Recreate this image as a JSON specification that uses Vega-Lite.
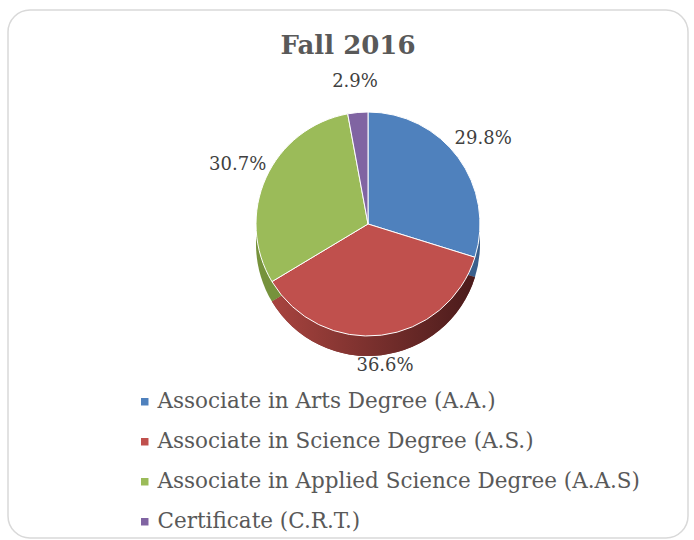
{
  "$schema": "https://vega.github.io/schema/vega-lite/v6.json",
  "width": 680,
  "height": 528,
  "autosize": {"type": "none"},
  "padding": {"left": 8, "top": 10, "right": 6, "bottom": 2},
  "background": "white",
  "config": {"view": {"stroke": null}},
  "title": {
    "text": "Fall 2016",
    "font": "DejaVu Serif",
    "fontSize": 26,
    "fontWeight": "bold",
    "color": "#595959",
    "offset": -50,
    "anchor": "middle"
  },
  "datasets": {
    "shares": [
      {"category": "Associate in Arts Degree (A.A.)", "pct": 0.298, "idx": 1},
      {"category": "Associate in Science Degree (A.S.)", "pct": 0.366, "idx": 2},
      {"category": "Associate in Applied Science Degree (A.A.S)", "pct": 0.307, "idx": 3},
      {"category": "Certificate (C.R.T.)", "pct": 0.029, "idx": 4}
    ],
    "frame": [{"name": "frame"}]
  },
  "layer": [
    {
      "data": {"name": "frame"},
      "mark": {"type": "rect", "fill": null, "stroke": "#d9d9d9", "strokeWidth": 1.5, "cornerRadius": 22},
      "encoding": {}
    },
    {
      "data": {"name": "shares"},
      "mark": {"type": "arc", "outerRadius": 112, "xOffset": 20, "yOffset": -30},
      "encoding": {
        "theta": {"field": "pct", "type": "quantitative", "stack": true},
        "order": {"field": "idx", "type": "quantitative"},
        "fill": {
          "field": "idx",
          "type": "nominal",
          "scale": {"domain": [1, 2, 3, 4], "range": ["#3a5f8c", "#7a2e2c", "#76923c", "#5c4878"]},
          "legend": null
        }
      }
    },
    {
      "data": {"name": "shares"},
      "mark": {
        "type": "arc",
        "outerRadius": 112,
        "xOffset": 20,
        "yOffset": -30,
        "color": {
          "gradient": "linear",
          "x1": 0, "x2": 1, "y1": 0, "y2": 0,
          "stops": [
            {"offset": 0, "color": "#a8443f"},
            {"offset": 1, "color": "#4a1b1b"}
          ]
        }
      },
      "encoding": {
        "theta": {"field": "pct", "type": "quantitative", "stack": true},
        "order": {"field": "idx", "type": "quantitative"},
        "opacity": {"condition": {"test": "datum.idx == 2", "value": 1}, "value": 0}
      }
    },
    {
      "data": {"name": "shares"},
      "mark": {"type": "arc", "outerRadius": 112, "xOffset": 20, "yOffset": -50, "stroke": "white", "strokeWidth": 1},
      "encoding": {
        "theta": {"field": "pct", "type": "quantitative", "stack": true},
        "order": {"field": "idx", "type": "quantitative"},
        "color": {
          "field": "category",
          "type": "nominal",
          "scale": {
            "domain": ["Associate in Arts Degree (A.A.)", "Associate in Science Degree (A.S.)", "Associate in Applied Science Degree (A.A.S)", "Certificate (C.R.T.)"],
            "range": ["#4f81bd", "#c0504d", "#9bbb59", "#8064a2"]
          },
          "legend": {
            "orient": "none",
            "legendX": 126,
            "legendY": 381,
            "direction": "vertical",
            "title": null,
            "symbolType": "square",
            "symbolSize": 56,
            "symbolStrokeWidth": 0,
            "labelFont": "DejaVu Serif",
            "labelFontSize": 21.5,
            "labelColor": "#595959",
            "labelLimit": 0,
            "labelOffset": 2,
            "rowPadding": 17
          }
        }
      }
    },
    {
      "data": {"name": "shares"},
      "mark": {"type": "text", "radius": 143, "xOffset": 20, "yOffset": -50, "font": "DejaVu Serif", "fontSize": 18, "fill": "#404040"},
      "encoding": {
        "theta": {"field": "pct", "type": "quantitative", "stack": true},
        "order": {"field": "idx", "type": "quantitative"},
        "text": {"field": "pct", "type": "quantitative", "format": ".1%"}
      }
    }
  ]
}
